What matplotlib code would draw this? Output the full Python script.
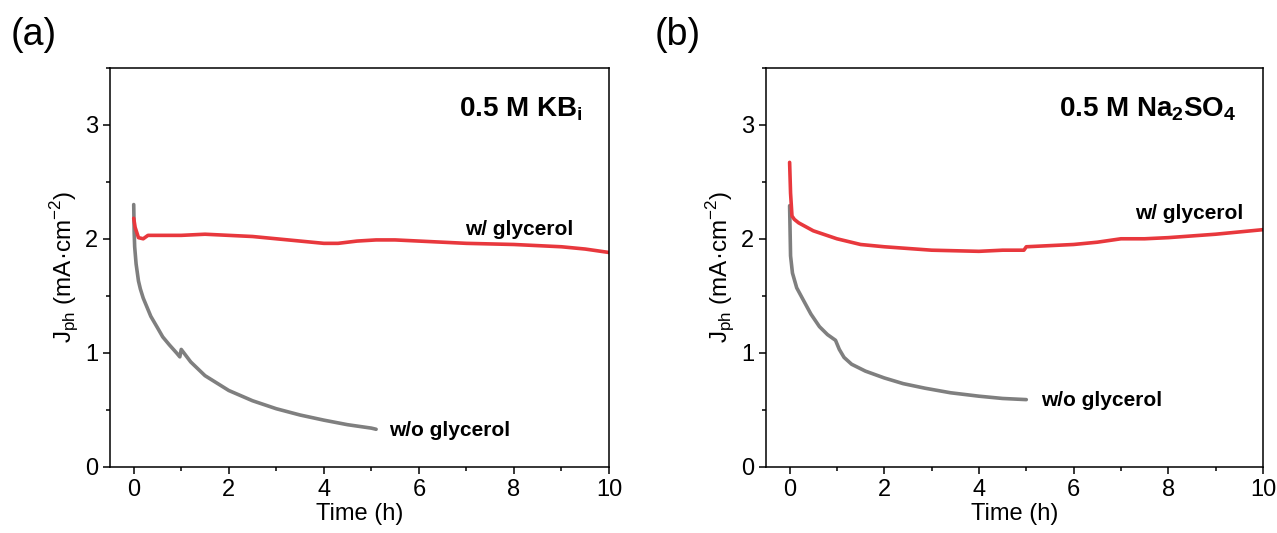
import numpy as np
import matplotlib
matplotlib.use("Agg")
import matplotlib.pyplot as plt
from matplotlib.ticker import MultipleLocator

fam = 'Liberation Sans'
plt.rcParams['font.family'] = [fam, 'DejaVu Sans']
plt.rcParams['mathtext.fontset'] = 'custom'
plt.rcParams['mathtext.rm'] = fam
plt.rcParams['mathtext.bf'] = fam + ':bold'

# panel (a) 0.5 M KBi
t_a_with = [0.0, 0.03, 0.1, 0.2, 0.3, 0.6, 1.0, 1.5, 2.0, 2.5, 3.0, 3.5, 4.0, 4.3, 4.7, 5.1, 5.5, 6.0, 7.0, 8.0, 9.0, 9.5, 10.0]
j_a_with = [2.18, 2.10, 2.01, 2.00, 2.03, 2.03, 2.03, 2.04, 2.03, 2.02, 2.00, 1.98, 1.96, 1.96, 1.98, 1.99, 1.99, 1.98, 1.96, 1.95, 1.93, 1.91, 1.88]
t_a_wo = [0.0, 0.01, 0.02, 0.05, 0.1, 0.14, 0.2, 0.36, 0.5, 0.61, 0.75, 0.9, 0.97, 1.0, 1.2, 1.5, 2.0, 2.5, 3.0, 3.5, 4.0, 4.5, 5.0, 5.1]
j_a_wo = [2.30, 2.05, 1.93, 1.78, 1.63, 1.56, 1.48, 1.32, 1.22, 1.14, 1.07, 1.00, 0.965, 1.03, 0.92, 0.80, 0.67, 0.58, 0.51, 0.455, 0.41, 0.37, 0.34, 0.33]

# panel (b) 0.5 M Na2SO4
t_b_with = [0.0, 0.02, 0.05, 0.1, 0.19, 0.5, 1.0, 1.5, 2.0, 3.0, 4.0, 4.5, 4.95, 5.0, 5.5, 6.0, 6.5, 7.0, 7.5, 8.0, 9.0, 10.0]
j_b_with = [2.67, 2.40, 2.20, 2.17, 2.14, 2.07, 2.00, 1.95, 1.93, 1.90, 1.89, 1.90, 1.90, 1.93, 1.94, 1.95, 1.97, 2.00, 2.00, 2.01, 2.04, 2.08]
t_b_wo = [0.0, 0.02, 0.06, 0.15, 0.28, 0.45, 0.63, 0.8, 0.97, 1.05, 1.15, 1.31, 1.6, 2.0, 2.4, 2.86, 3.4, 4.0, 4.5, 5.0]
j_b_wo = [2.29, 1.85, 1.70, 1.57, 1.47, 1.34, 1.23, 1.16, 1.11, 1.03, 0.96, 0.90, 0.84, 0.78, 0.73, 0.69, 0.65, 0.62, 0.60, 0.59]

red = '#e8383d'
gray = '#7f7f7f'

fig = plt.figure(figsize=(12.77, 5.33), dpi=100)
ax_a = fig.add_axes([0.0861, 0.124, 0.3908, 0.749])
ax_b = fig.add_axes([0.5998, 0.124, 0.3892, 0.749])

panels = [
    (ax_a, t_a_with, j_a_with, t_a_wo, j_a_wo, '0.5 M KB$_{\\mathbf{i}}$', (9.24, 2.08), (5.37, 0.315)),
    (ax_b, t_b_with, j_b_with, t_b_wo, j_b_wo, '0.5 M Na$_{\\mathbf{2}}$SO$_{\\mathbf{4}}$', (9.58, 2.22), (5.31, 0.585)),
]

for ax, tw, jw, to, jo, title, pos_w, pos_o in panels:
    ax.plot(to, jo, color=gray, lw=2.6, solid_capstyle='round')
    ax.plot(tw, jw, color=red, lw=2.6, solid_capstyle='round')
    ax.set_xlim(-0.5, 10)
    ax.set_ylim(0, 3.5)
    ax.xaxis.set_major_locator(MultipleLocator(2))
    ax.xaxis.set_minor_locator(MultipleLocator(1))
    ax.yaxis.set_major_locator(MultipleLocator(1))
    ax.yaxis.set_minor_locator(MultipleLocator(0.5))
    ax.tick_params(which='major', direction='out', length=5, width=1.1, labelsize=17)
    ax.tick_params(which='minor', direction='out', length=3, width=1.1)
    for s in ax.spines.values():
        s.set_linewidth(1.1)
    ax.set_xlabel('Time (h)', fontsize=17, labelpad=2)
    ax.set_ylabel('J$_\\mathregular{ph}$ (mA·cm$^\\mathregular{-2}$)', fontsize=17.5, labelpad=3)
    ax.text(9.45, 3.14, title, fontsize=20, fontweight='bold', ha='right', va='center')
    ax.text(pos_w[0], pos_w[1], 'w/ glycerol', fontsize=15, fontweight='bold', ha='right', va='center')
    ax.text(pos_o[0], pos_o[1], 'w/o glycerol', fontsize=15, fontweight='bold', ha='left', va='center')

fig.text(0.008, 0.935, '(a)', fontsize=27, va='center')
fig.text(0.513, 0.935, '(b)', fontsize=27, va='center')

fig.savefig('out.png', dpi=100)
